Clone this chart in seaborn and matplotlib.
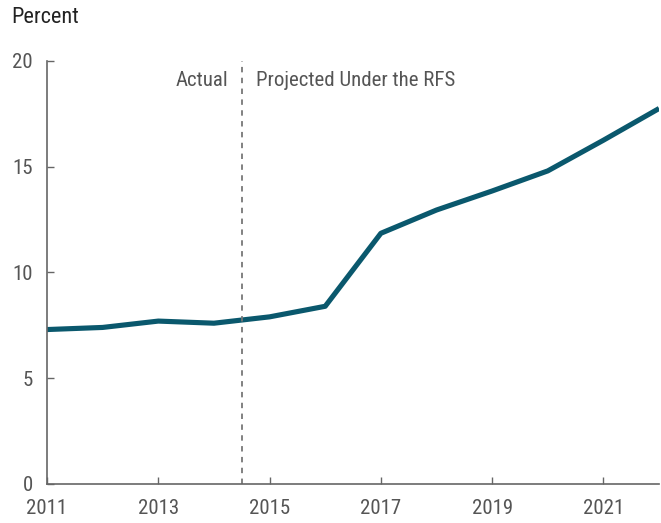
import matplotlib
matplotlib.use("Agg")
import matplotlib.pyplot as plt
from matplotlib import font_manager as fm
import seaborn as sns
import pandas as pd

years = [2011, 2012, 2013, 2014, 2015, 2016, 2017, 2018, 2019, 2020, 2021, 2022]
percent = [7.3, 7.4, 7.7, 7.6, 7.9, 8.4, 11.85, 12.95, 13.85, 14.8, 16.25, 17.75]
xticks = [2011, 2013, 2015, 2017, 2019, 2021]
yticks = [0, 5, 10, 15, 20]
divider_year = 2014.5

sns.set_theme(style="white")
plt.rcParams['font.family'] = ['DejaVu Sans']


def pick_condensed():
    prefs = ["Roboto Condensed", "Liberation Sans Narrow", "Open Sans Condensed",
             "Noto Sans Condensed", "DejaVu Sans"]
    cands = []
    for f in fm.fontManager.ttflist:
        cond = ("Narrow" in f.name or "Condensed" in f.name or "Cond" in f.fname
                or str(f.stretch) in ("condensed", "semi-condensed", "extra-condensed"))
        if not cond or f.style != "normal":
            continue
        w = f.weight if isinstance(f.weight, int) else {"normal": 400, "regular": 400}.get(str(f.weight), 700)
        if w != 400:
            continue
        cands.append(f)
    for p in prefs:
        for f in cands:
            if f.name == p:
                return f.fname
    return cands[0].fname if cands else None


fname = pick_condensed()


def fp(size):
    if fname:
        return fm.FontProperties(fname=fname, size=size)
    return fm.FontProperties(family="DejaVu Sans", size=size)


df = pd.DataFrame({"year": years, "percent": percent})

fig = plt.figure(figsize=(6.61, 5.23), dpi=100)
ax = fig.add_axes([0.0711, 0.0746, 0.926, 0.809])

sns.lineplot(data=df, x="year", y="percent", ax=ax, color="#0a586d",
             linewidth=3.7, solid_capstyle="butt")

ax.axvline(divider_year, color="#777777", linestyle=(0, (3, 3)), linewidth=1.3)

ax.set_xlim(2011, 2022)
ax.set_ylim(0, 20)
ax.set_xticks(xticks)
ax.set_yticks(yticks)
ax.set_xticklabels([str(v) for v in xticks], fontproperties=fp(15), color="#555555")
ax.set_yticklabels([str(v) for v in yticks], fontproperties=fp(15), color="#555555")
ax.set_xlabel("")
ax.set_ylabel("")
for s in ["top", "right"]:
    ax.spines[s].set_visible(False)
for s in ["left", "bottom"]:
    ax.spines[s].set_color("#666666")
    ax.spines[s].set_linewidth(1.2)
ax.tick_params(axis="both", which="major", bottom=True, left=True, direction="in",
               length=5, width=1.0, color="#666666")
ax.tick_params(axis="y", pad=10)
ax.tick_params(axis="x", pad=11)

fig.text(0.017, 0.966, "Percent", fontproperties=fp(16), color="#222222",
         va="center", ha="left")
ax.text(divider_year - 0.25, 19.05, "Actual", fontproperties=fp(15), color="#555555",
        ha="right", va="center")
ax.text(divider_year + 0.26, 19.05, "Projected Under the RFS", fontproperties=fp(15),
        color="#555555", ha="left", va="center")

fig.savefig("out.png", dpi=100)
